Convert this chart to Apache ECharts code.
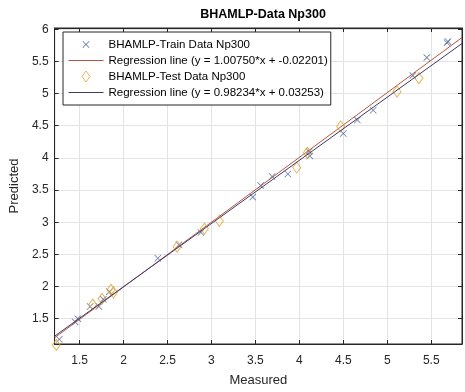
<!DOCTYPE html>
<html><head><meta charset="utf-8">
<script src="https://cdn.jsdelivr.net/npm/echarts@6/dist/echarts.min.js"></script>
<style>html,body{margin:0;padding:0;background:#fff}#c{width:465px;height:392px}</style>
</head><body><div id="c"></div>
<script>
const trainX = [1.27,1.45,1.48,1.62,1.72,1.77,1.84,2.39,2.63,2.88,3.47,3.56,3.69,3.87,4.11,4.12,4.50,4.66,4.84,5.29,5.45,5.68,5.69];
const trainY = [1.18,1.45,1.50,1.69,1.69,1.80,1.92,2.44,2.65,2.84,3.39,3.57,3.71,3.75,4.10,4.03,4.38,4.59,4.74,5.28,5.56,5.79,5.81];
const testX = [1.236,1.65,1.755,1.857,1.887,2.61,2.92,3.09,3.97,4.09,4.47,5.11,5.36];
const testY = [1.09,1.72,1.81,1.95,1.91,2.62,2.90,3.02,3.85,4.08,4.49,5.03,5.24];
const regSlope = [1.00750, 0.98234];
const regIntercept = [-0.02201, 0.03253];
const seriesNames = ['BHAMLP-Train Data Np300','Regression line (y = 1.00750*x + -0.02201)','BHAMLP-Test Data Np300','Regression line (y = 0.98234*x + 0.03253)'];
const xRange = [1.216, 5.85];
const yRange = [1.106, 6.02];

const FONT = '"Liberation Sans", Arial, sans-serif';
const crossPath = 'path://M0,0.8 L0.8,0 L5,4.2 L9.2,0 L10,0.8 L5.8,5 L10,9.2 L9.2,10 L5,5.8 L0.8,10 L0,9.2 L4.2,5 Z';
// legend icons: 35x11 boxes, shape centred
const lgCross = 'path://M0,0 M35,11 M14,2.6 L14.6,2 L17.5,4.9 L20.4,2 L21,2.6 L18.1,5.5 L21,8.4 L20.4,9 L17.5,6.1 L14.6,9 L14,8.4 L16.9,5.5 Z';
const lgDiamond = 'path://M0,0 M35,11 M17.5,0 L21.5,5.5 L17.5,11 L13.5,5.5 Z';
const lgLine = 'path://M0,0 M35,11 M0,5 L35,5 L35,6 L0,6 Z';
const regLine = (i) => xRange.map(x => [x, regSlope[i]*x + regIntercept[i]]);
const half = v => Math.abs(v*2 - Math.round(v*2)) < 1e-6 ? String(+v.toFixed(1)) : '';

const chart = echarts.init(document.getElementById('c'));
const axisCommon = {
  axisLine:{show:true,lineStyle:{color:'#262626',width:1}},
  axisTick:{show:true,inside:true,length:4,lineStyle:{color:'#262626'}},
  splitNumber:9
};
chart.setOption({
  animation:false,
  backgroundColor:'#fff',
  title:{text:'BHAMLP-Data Np300',left:258,top:3,textAlign:'center',
    textStyle:{fontFamily:FONT,fontWeight:'bold',fontSize:12.5,color:'#000'}},
  grid:{left:54,top:28,right:3,bottom:43,show:true,borderColor:'#262626',borderWidth:1,backgroundColor:'#fff'},
  legend:{
    orient:'vertical',left:63,top:32,
    itemWidth:35,itemHeight:11,itemGap:3,
    padding:[6,3,6,5],
    backgroundColor:'#fff',borderColor:'#262626',borderWidth:1,borderRadius:0,
    itemStyle:{borderWidth:1},
    textStyle:{fontFamily:FONT,fontSize:11.5,lineHeight:13,color:'#000'},
    data:[
      {name:seriesNames[0],icon:lgCross},
      {name:seriesNames[1],icon:lgLine},
      {name:seriesNames[2],icon:lgDiamond},
      {name:seriesNames[3],icon:lgLine}
    ]
  },
  xAxis:[
    Object.assign({type:'value',min:xRange[0],max:xRange[1],position:'bottom',
      name:'Measured',nameLocation:'middle',nameGap:30,
      nameTextStyle:{fontFamily:FONT,fontSize:13,color:'#262626'},
      axisLabel:{formatter:half,fontFamily:FONT,fontSize:12,color:'#262626',margin:11},
      splitLine:{show:true,lineStyle:{color:'#e3e3e3',width:1}}},axisCommon),
    Object.assign({type:'value',min:xRange[0],max:xRange[1],position:'top',
      axisLabel:{show:false},splitLine:{show:false}},axisCommon)
  ],
  yAxis:[
    Object.assign({type:'value',min:yRange[0],max:yRange[1],position:'left',
      name:'Predicted',nameLocation:'middle',nameGap:24,
      nameTextStyle:{fontFamily:FONT,fontSize:13,color:'#262626'},
      axisLabel:{formatter:half,fontFamily:FONT,fontSize:12,color:'#262626',margin:6},
      splitLine:{show:true,lineStyle:{color:'#e3e3e3',width:1}}},axisCommon),
    Object.assign({type:'value',min:yRange[0],max:yRange[1],position:'right',
      axisLabel:{show:false},splitLine:{show:false}},axisCommon)
  ],
  series:[
    {name:seriesNames[0],type:'scatter',symbol:crossPath,symbolSize:7,clip:false,
      itemStyle:{color:'#3f5a8f'},data:trainX.map((x,i)=>[x,trainY[i]]),z:2},
    {name:seriesNames[1],type:'line',symbol:'none',lineStyle:{color:'#b9553e',width:1},
      itemStyle:{color:'#b9553e'},data:regLine(0),z:3},
    {name:seriesNames[2],type:'scatter',symbol:'diamond',symbolSize:[8,11],clip:false,
      itemStyle:{color:'rgba(0,0,0,0)',borderColor:'#e3a12c',borderWidth:1},
      data:testX.map((x,i)=>[x,testY[i]]),z:4},
    {name:seriesNames[3],type:'line',symbol:'none',lineStyle:{color:'#3e3a6c',width:1},
      itemStyle:{color:'#3e3a6c'},data:regLine(1),z:5}
  ]
});
</script></body></html>
